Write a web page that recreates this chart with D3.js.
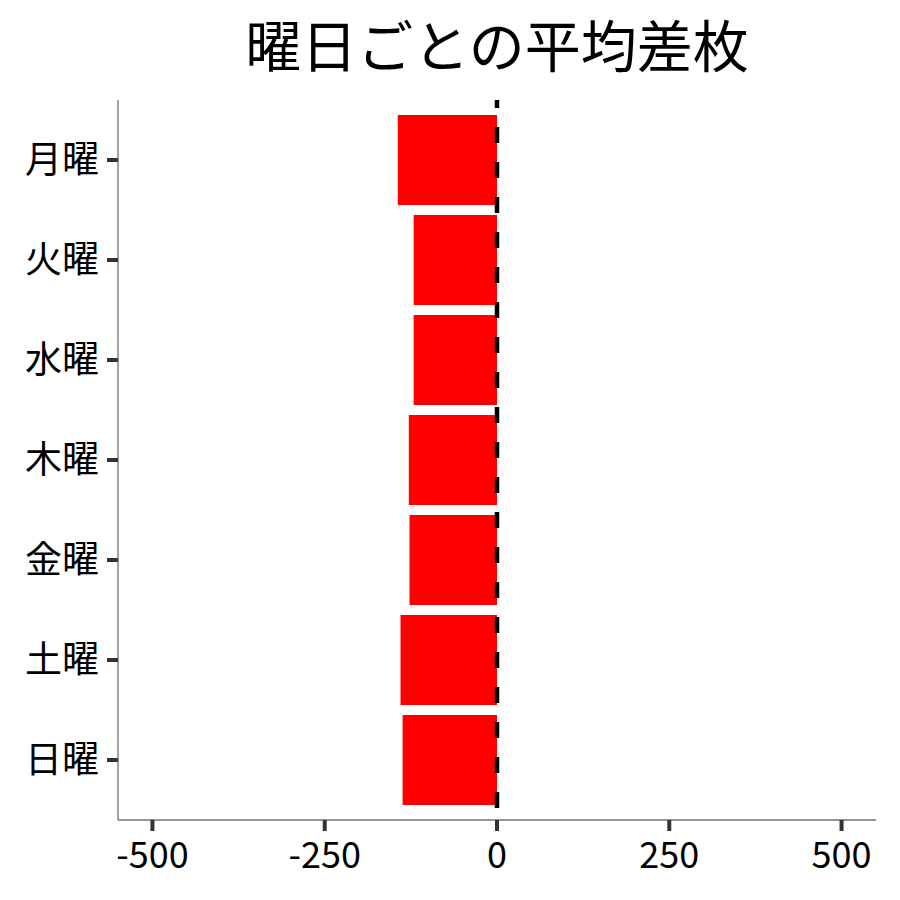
<!DOCTYPE html>
<html>
<head>
<meta charset="utf-8">
<script src="https://cdn.jsdelivr.net/npm/d3@7"></script>
<style>
  body { margin: 0; background: #fff; }
  text { font-family: "Noto Sans CJK JP", "Noto Sans", sans-serif; fill: #000; }
</style>
</head>
<body>
<div id="viz"></div>
<script>
const TITLE = '曜日ごとの平均差枚';
const days = ['月曜', '火曜', '水曜', '木曜', '金曜', '土曜', '日曜'];
const avgDiff = [-144, -121, -121, -128, -127, -140, -137];
const xTicks = [-500, -250, 0, 250, 500];

const WIDTH = 900;
const HEIGHT = 900;
const PANEL = { left: 118, right: 876, top: 100, bottom: 820 };

const svg = d3.select('#viz')
  .append('svg')
  .attr('width', WIDTH)
  .attr('height', HEIGHT);

// x scale: limits +-500 with 10% expansion like ggplot
const x = d3.scaleLinear()
  .domain([-550, 550])
  .range([PANEL.left, PANEL.right]);

// discrete y with 0.6 unit padding on each side
const yIdx = d3.scaleLinear()
  .domain([0.4, days.length + 0.6])
  .range([PANEL.top, PANEL.bottom]);
const bandH = yIdx(1.9) - yIdx(1);

// bars
svg.append('g')
  .attr('class', 'bars')
  .selectAll('rect')
  .data(days)
  .join('rect')
  .attr('x', (d, i) => x(Math.min(0, avgDiff[i])))
  .attr('width', (d, i) => Math.abs(x(avgDiff[i]) - x(0)))
  .attr('y', (d, i) => yIdx(i + 1) - bandH / 2)
  .attr('height', bandH)
  .attr('fill', '#ff0000');

// zero reference line
svg.append('line')
  .attr('x1', x(0)).attr('x2', x(0))
  .attr('y1', PANEL.top).attr('y2', PANEL.bottom)
  .attr('stroke', '#000')
  .attr('stroke-width', 4.5)
  .attr('stroke-dasharray', '16,19')
  .attr('stroke-dashoffset', 8);

// axis lines
const axes = svg.append('g').attr('class', 'axes');
axes.append('line')
  .attr('x1', PANEL.left).attr('x2', PANEL.left)
  .attr('y1', PANEL.top).attr('y2', PANEL.bottom)
  .attr('stroke', '#737373').attr('stroke-width', 1.3);
axes.append('line')
  .attr('x1', PANEL.left).attr('x2', PANEL.right)
  .attr('y1', PANEL.bottom).attr('y2', PANEL.bottom)
  .attr('stroke', '#737373').attr('stroke-width', 1.3);

// x axis ticks + labels
const xAxis = axes.append('g').attr('class', 'xaxis');
xAxis.selectAll('line')
  .data(xTicks)
  .join('line')
  .attr('x1', d => x(d)).attr('x2', d => x(d))
  .attr('y1', PANEL.bottom).attr('y2', PANEL.bottom + 11)
  .attr('stroke', '#333').attr('stroke-width', 4);
xAxis.selectAll('text')
  .data(xTicks)
  .join('text')
  .attr('x', d => x(d))
  .attr('y', 868)
  .attr('text-anchor', 'middle')
  .style('font-size', '36px')
  .text(d => d);

// y axis ticks + labels
const yAxis = axes.append('g').attr('class', 'yaxis');
yAxis.selectAll('line')
  .data(days)
  .join('line')
  .attr('x1', PANEL.left - 11).attr('x2', PANEL.left)
  .attr('y1', (d, i) => yIdx(i + 1)).attr('y2', (d, i) => yIdx(i + 1))
  .attr('stroke', '#333').attr('stroke-width', 4);
yAxis.selectAll('text')
  .data(days)
  .join('text')
  .attr('x', 99)
  .attr('y', (d, i) => yIdx(i + 1))
  .attr('dy', '0.36em')
  .attr('text-anchor', 'end')
  .style('font-size', '37px')
  .text(d => d);

// title
svg.append('text')
  .attr('x', (PANEL.left + PANEL.right) / 2)
  .attr('y', 67)
  .attr('text-anchor', 'middle')
  .style('font-size', '56px')
  .text(TITLE);
</script>
</body>
</html>
